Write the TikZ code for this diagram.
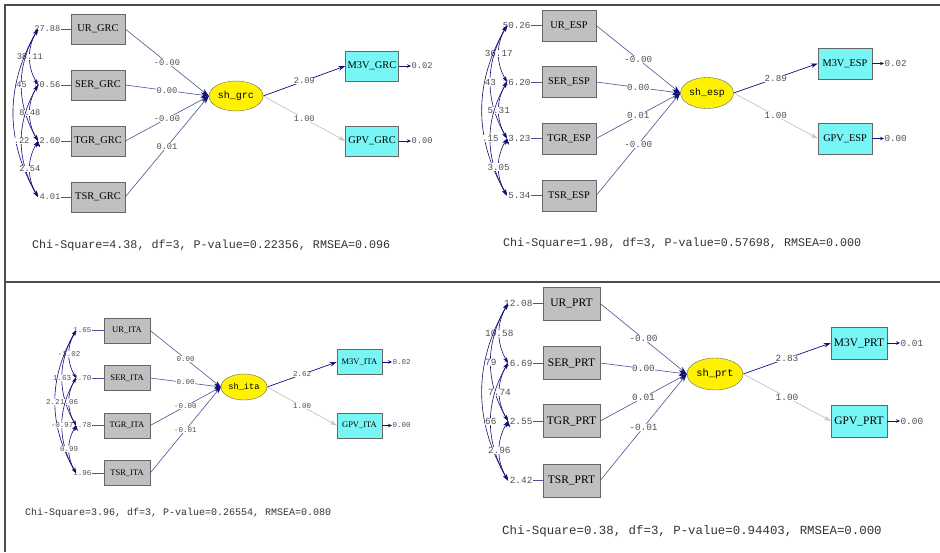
\documentclass[tikz,border=0pt]{standalone}
\usepackage{fontspec}
\setmainfont{Liberation Serif}
\setmonofont{Liberation Mono}
\usetikzlibrary{arrows.meta,shapes.geometric}
\definecolor{lnavy}{RGB}{16,16,120}
\definecolor{pblue}{RGB}{80,80,150}
\definecolor{lgray}{RGB}{196,196,196}
\definecolor{boxgray}{RGB}{192,192,192}
\definecolor{lcyan}{RGB}{120,246,246}
\definecolor{numgray}{RGB}{80,80,80}
\tikzset{
  obs/.style={draw=gray!80!black, fill=boxgray, inner sep=0pt},
  ind/.style={draw=gray!80!black, fill=lcyan, inner sep=0pt},
  lat/.style={ellipse, draw=gray!80!black, fill=yellow, inner sep=0pt},
  num/.style={text=numgray, fill=white, inner sep=0.4pt},
  chi/.style={text=black!80, inner sep=0pt, anchor=west},
  path/.style={pblue, line width=0.6pt, -{Stealth[lnavy,length=8pt,width=5pt]}},
  load/.style={lnavy, line width=0.7pt, -{Stealth[length=7pt,width=4.5pt]}},
  fix/.style={lgray, line width=0.7pt, -{Stealth[length=7pt,width=4.5pt]}},
  err/.style={lnavy, line width=1pt, -{Stealth[length=4pt,width=3.5pt]}},
  var/.style={pblue, line width=0.6pt},
  cov/.style={lnavy, line width=0.6pt, {Stealth[length=6pt,width=4pt]}-{Stealth[length=6pt,width=4pt]}}
}
\begin{document}
\begin{tikzpicture}[x=1pt, y=-1pt]
\useasboundingbox (0,0) rectangle (940,552);
\fill[white] (0,0) rectangle (940,552);
\draw[gray!60!black, line width=1.2pt] (5,552) -- (5,5) -- (940,5) (5,282) -- (940,282);

\begin{scope}[obs/.append style={minimum width=54pt, minimum height=30pt, font=\fontsize{10.4}{12}\selectfont},
  ind/.append style={minimum width=53pt, minimum height=30pt, font=\fontsize{10.4}{12}\selectfont},
  lat/.append style={minimum width=54pt, minimum height=30pt, font=\ttfamily\fontsize{10}{12}\selectfont},
  num/.append style={font=\ttfamily\fontsize{8.7}{10}\selectfont}]
\node[obs] (g1) at (98,29) {UR\_GRC};
\node[obs] (g2) at (98,85) {SER\_GRC};
\node[obs] (g3) at (98,141) {TGR\_GRC};
\node[obs] (g4) at (98,197) {TSR\_GRC};
\node[lat] (ge) at (236,96) {sh\_grc};
\node[ind] (gm) at (372,66) {M3V\_GRC};
\node[ind] (gp) at (372,141) {GPV\_GRC};
\node[num, anchor=east] (gv1) at (61,29) {27.88};
\node[num, anchor=east] (gv2) at (61,85) {50.56};
\node[num, anchor=east] (gv3) at (61,141) {2.60};
\node[num, anchor=east] (gv4) at (61,197) {4.01};
\coordinate (ga1) at (38,29);
\coordinate (ga2) at (38,85);
\coordinate (ga3) at (38,141);
\coordinate (ga4) at (38,197);
\draw[var] (gv1.east) -- (g1.west);
\draw[var] (gv2.east) -- (g2.west);
\draw[var] (gv3.east) -- (g3.west);
\draw[var] (gv4.east) -- (g4.west);
\draw[cov] (ga1) edge[bend right=30] node[num] (gc1) {38.11} (ga2)
  (ga1) edge[bend right=30] node[num] (gc2) {45} (ga3)
  (ga1) edge[bend right=30] (ga4)
  (ga2) edge[bend right=30] node[num] (gc3) {8.48} (ga3)
  (ga2) edge[bend right=30] node[num] (gc4) {.22} (ga4)
  (ga3) edge[bend right=30] node[num] (gc5) {2.54} (ga4);
\draw[path] (g1.east) -- node[num] (gl1) {-0.00} (ge.west);
\draw[path] (g2.east) -- node[num] (gl2) {0.00} (ge.west);
\draw[path] (g3.east) -- node[num] (gl3) {-0.00} (ge.west);
\draw[path] (g4.east) -- node[num] (gl4) {0.01} (ge.west);
\draw[load] (ge.east) -- node[num] (gl5) {2.09} (gm.west);
\draw[fix] (ge.east) -- node[num] (gl6) {1.00} (gp.west);
\node[num, anchor=west] (gmr) at (411,66) {0.02};
\node[num, anchor=west] (gpr) at (411,141) {0.00};
\draw[err] (gm.east) -- (gmr.west);
\draw[err] (gp.east) -- (gpr.west);
\node[chi, font=\ttfamily\fontsize{11.7}{13}\selectfont] (gchi) at (32,245) {Chi-Square=4.38, df=3, P-value=0.22356, RMSEA=0.096};
\end{scope}

\begin{scope}[obs/.append style={minimum width=54pt, minimum height=31pt, font=\fontsize{10.3}{12}\selectfont},
  ind/.append style={minimum width=54pt, minimum height=31pt, font=\fontsize{10.3}{12}\selectfont},
  lat/.append style={minimum width=53pt, minimum height=31pt, font=\ttfamily\fontsize{9.9}{12}\selectfont},
  num/.append style={font=\ttfamily\fontsize{9.2}{10}\selectfont}]
\node[obs] (e1) at (569,25.5) {UR\_ESP};
\node[obs] (e2) at (569,82) {SER\_ESP};
\node[obs] (e3) at (569,138.5) {TGR\_ESP};
\node[obs] (e4) at (569,195.5) {TSR\_ESP};
\node[lat] (ee) at (707,93) {sh\_esp};
\node[ind] (em) at (845,63.5) {M3V\_ESP};
\node[ind] (ep) at (845,138.5) {GPV\_ESP};
\node[num, anchor=east] (ev1) at (531,25.5) {50.26};
\node[num, anchor=east] (ev2) at (531,82) {26.20};
\node[num, anchor=east] (ev3) at (531,138.5) {3.23};
\node[num, anchor=east] (ev4) at (531,195.5) {5.34};
\coordinate (ea1) at (507,25.5);
\coordinate (ea2) at (507,82);
\coordinate (ea3) at (507,138.5);
\coordinate (ea4) at (507,195.5);
\draw[var] (ev1.east) -- (e1.west);
\draw[var] (ev2.east) -- (e2.west);
\draw[var] (ev3.east) -- (e3.west);
\draw[var] (ev4.east) -- (e4.west);
\draw[cov] (ea1) edge[bend right=30] node[num] (ec1) {36.17} (ea2)
  (ea1) edge[bend right=30] node[num] (ec2) {43} (ea3)
  (ea1) edge[bend right=30] (ea4)
  (ea2) edge[bend right=30] node[num] (ec3) {5.31} (ea3)
  (ea2) edge[bend right=30] node[num] (ec4) {.15} (ea4)
  (ea3) edge[bend right=30] node[num] (ec5) {3.05} (ea4);
\draw[path] (e1.east) -- node[num] (el1) {-0.00} (ee.west);
\draw[path] (e2.east) -- node[num] (el2) {0.00} (ee.west);
\draw[path] (e3.east) -- node[num] (el3) {0.01} (ee.west);
\draw[path] (e4.east) -- node[num] (el4) {-0.00} (ee.west);
\draw[load] (ee.east) -- node[num] (el5) {2.89} (em.west);
\draw[fix] (ee.east) -- node[num] (el6) {1.00} (ep.west);
\node[num, anchor=west] (emr) at (884,63.5) {0.02};
\node[num, anchor=west] (epr) at (884,138.5) {0.00};
\draw[err] (em.east) -- (emr.west);
\draw[err] (ep.east) -- (epr.west);
\node[chi, font=\ttfamily\fontsize{11.7}{13}\selectfont] (echi) at (503,243) {Chi-Square=1.98, df=3, P-value=0.57698, RMSEA=0.000};
\end{scope}

\begin{scope}[obs/.append style={minimum width=46pt, minimum height=25pt, font=\fontsize{8.5}{10}\selectfont},
  ind/.append style={minimum width=45pt, minimum height=25pt, font=\fontsize{8.5}{10}\selectfont},
  lat/.append style={minimum width=46pt, minimum height=26pt, font=\ttfamily\fontsize{8.7}{10}\selectfont},
  num/.append style={font=\ttfamily\fontsize{7.5}{9}\selectfont},
  path/.append style={-{Stealth[lnavy,length=6.5pt,width=4.5pt]}},
  cov/.append style={{Stealth[length=5pt,width=3.5pt]}-{Stealth[length=5pt,width=3.5pt]}}]
\node[obs] (i1) at (127,330.5) {UR\_ITA};
\node[obs] (i2) at (127,378) {SER\_ITA};
\node[obs] (i3) at (127,425.5) {TGR\_ITA};
\node[obs] (i4) at (127,473) {TSR\_ITA};
\node[lat] (ie) at (244,387) {sh\_ita};
\node[ind] (im) at (359.5,362) {M3V\_ITA};
\node[ind] (ip) at (359.5,425.5) {GPV\_ITA};
\node[num, anchor=east] (iv1) at (92,330.5) {1.65};
\node[num, anchor=east] (iv2) at (92,378) {2.70};
\node[num, anchor=east] (iv3) at (92,425.5) {1.78};
\node[num, anchor=east] (iv4) at (92,473) {1.96};
\coordinate (ia1) at (76,330.5);
\coordinate (ia2) at (76,378);
\coordinate (ia3) at (76,425.5);
\coordinate (ia4) at (76,473);
\draw[var] (iv1.east) -- (i1.west);
\draw[var] (iv2.east) -- (i2.west);
\draw[var] (iv3.east) -- (i3.west);
\draw[var] (iv4.east) -- (i4.west);
\draw[cov] (ia1) edge[bend right=30] node[num] (ic1) {-1.02} (ia2)
  (ia1) edge[bend right=30] node[num] (ic2) {1.63} (ia3)
  (ia1) edge[bend right=30] node[num] (ic3) {2.27} (ia4)
  (ia2) edge[bend right=30] node[num] (ic4) {1.06} (ia3)
  (ia2) edge[bend right=30] node[num] (ic5) {-0.97} (ia4)
  (ia3) edge[bend right=30] node[num] (ic6) {0.99} (ia4);
\draw[path] (i1.east) -- node[num] (il1) {0.00} (ie.west);
\draw[path] (i2.east) -- node[num] (il2) {0.00} (ie.west);
\draw[path] (i3.east) -- node[num] (il3) {-0.00} (ie.west);
\draw[path] (i4.east) -- node[num] (il4) {-0.01} (ie.west);
\draw[load] (ie.east) -- node[num] (il5) {2.62} (im.west);
\draw[fix] (ie.east) -- node[num] (il6) {1.00} (ip.west);
\node[num, anchor=west] (imr) at (392,362) {0.02};
\node[num, anchor=west] (ipr) at (392,425.5) {0.00};
\draw[err] (im.east) -- (imr.west);
\draw[err] (ip.east) -- (ipr.west);
\node[chi, font=\ttfamily\fontsize{10}{12}\selectfont] (ichi) at (25,513) {Chi-Square=3.96, df=3, P-value=0.26554, RMSEA=0.080};
\end{scope}

\begin{scope}[obs/.append style={minimum width=57pt, minimum height=33pt, font=\fontsize{11.5}{13}\selectfont},
  ind/.append style={minimum width=56pt, minimum height=32pt, font=\fontsize{11.5}{13}\selectfont},
  lat/.append style={minimum width=56pt, minimum height=32pt, font=\ttfamily\fontsize{10.4}{12}\selectfont},
  num/.append style={font=\ttfamily\fontsize{9.4}{11}\selectfont}]
\node[obs] (p1) at (571.5,303.5) {UR\_PRT};
\node[obs] (p2) at (571.5,363) {SER\_PRT};
\node[obs] (p3) at (571.5,421) {TGR\_PRT};
\node[obs] (p4) at (571.5,480.5) {TSR\_PRT};
\node[lat] (pe) at (715,374) {sh\_prt};
\node[ind] (pm) at (859,343) {M3V\_PRT};
\node[ind] (pp) at (859,421) {GPV\_PRT};
\node[num, anchor=east] (pv1) at (533,303.5) {12.08};
\node[num, anchor=east] (pv2) at (533,363) {16.69};
\node[num, anchor=east] (pv3) at (533,421) {2.55};
\node[num, anchor=east] (pv4) at (533,480.5) {2.42};
\coordinate (pa1) at (508,303.5);
\coordinate (pa2) at (508,363);
\coordinate (pa3) at (508,421);
\coordinate (pa4) at (508,480.5);
\draw[var] (pv1.east) -- (p1.west);
\draw[var] (pv2.east) -- (p2.west);
\draw[var] (pv3.east) -- (p3.west);
\draw[var] (pv4.east) -- (p4.west);
\draw[cov] (pa1) edge[bend right=30] node[num] (pc1) {10.58} (pa2)
  (pa1) edge[bend right=30] node[num] (pc2) {79} (pa3)
  (pa1) edge[bend right=30] (pa4)
  (pa2) edge[bend right=30] node[num] (pc3) {7.74} (pa3)
  (pa2) edge[bend right=30] node[num] (pc4) {66} (pa4)
  (pa3) edge[bend right=30] node[num] (pc5) {2.96} (pa4);
\draw[path] (p1.east) -- node[num] (pl1) {-0.00} (pe.west);
\draw[path] (p2.east) -- node[num] (pl2) {0.00} (pe.west);
\draw[path] (p3.east) -- node[num] (pl3) {0.01} (pe.west);
\draw[path] (p4.east) -- node[num] (pl4) {-0.01} (pe.west);
\draw[load] (pe.east) -- node[num] (pl5) {2.83} (pm.west);
\draw[fix] (pe.east) -- node[num] (pl6) {1.00} (pp.west);
\node[num, anchor=west] (pmr) at (900,343) {0.01};
\node[num, anchor=west] (ppr) at (900,421) {0.00};
\draw[err] (pm.east) -- (pmr.west);
\draw[err] (pp.east) -- (ppr.west);
\node[chi, font=\ttfamily\fontsize{12.4}{14}\selectfont] (pchi) at (502,531) {Chi-Square=0.38, df=3, P-value=0.94403, RMSEA=0.000};
\end{scope}
\end{tikzpicture}
\end{document}
